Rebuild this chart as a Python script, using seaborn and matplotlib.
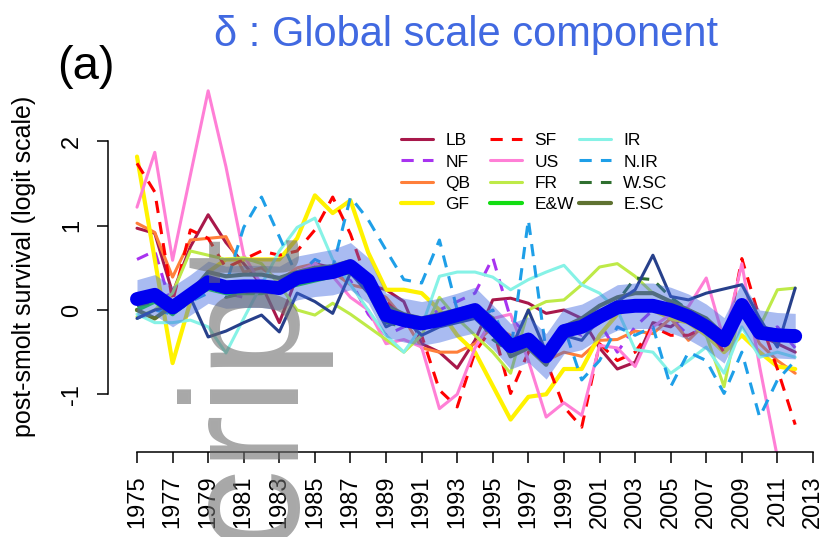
import numpy as np
import pandas as pd
import matplotlib
matplotlib.use("Agg")
import matplotlib.pyplot as plt
import seaborn as sns
from matplotlib.lines import Line2D

# ---- data ----
years = list(range(1975, 2013))

stocks = ["LB", "NF", "QB", "GF", "SF", "US", "FR", "E&W", "IR", "N.IR", "W.SC", "E.SC"]

lb = [0.97, 0.91, 0.2, 0.75, 1.13, 0.8, 0.55, 0.3, -0.15, 0.4, 0.55, 0.5, 0.45, 0.3, 0.24, 0.1, -0.4, -0.5, -0.69,
      -0.36, 0.12, 0.14, 0.08, -0.04, 0.0, -0.1, -0.45, -0.7, -0.62, -0.15, -0.2, -0.05, -0.3, -0.25, 0.05, -0.3, -0.4, -0.5]
nf = [0.6, 0.7, 0.0, 0.1, 0.3, 0.2, 0.15, 0.35, 0.25, 0.4, 0.5, 0.45, 0.35, -0.05, -0.3, -0.2, -0.1, 0.0, 0.1, 0.2,
      0.62, -0.1, -0.3, -0.5, -0.2, -0.3, -0.15, -0.5, -0.2, 0.0, -0.1, -0.3, -0.2, -0.4, 0.0, -0.3, -0.2, -0.45]
qb = [1.03, 0.92, 0.39, 0.83, 0.85, 0.87, 0.45, 0.5, 0.35, 0.5, 0.55, 0.45, 0.3, 0.25, 0.15, -0.1, -0.45, -0.5, -0.5,
      -0.4, -0.2, -0.3, -0.4, -0.6, -0.5, -0.55, -0.36, -0.35, -0.25, -0.28, -0.1, -0.36, -0.15, -0.5, 0.0, -0.4, -0.6, -0.75]
gf = [1.82, 0.6, -0.63, 0.1, 0.45, 0.6, 0.6, 0.6, 0.6, 0.85, 1.36, 1.15, 1.3, 0.68, 0.24, 0.24, 0.2, 0.0, -0.3, -0.5,
      -0.9, -1.3, -1.03, -1.0, -0.7, -0.7, -0.3, -0.05, 0.05, 0.0, -0.1, -0.15, -0.3, -0.5, -0.3, -0.5, -0.67, -0.7]
sf = [1.74, 1.4, 0.1, 0.95, 0.85, 0.5, 0.6, 0.7, 0.65, 0.7, 0.95, 1.34, 0.9, 0.3, 0.1, -0.1, -0.3, -0.95, -1.15, -0.5,
      -0.2, -0.99, -0.5, -0.6, -1.15, -1.39, -0.4, -0.6, -0.5, -0.2, -0.3, -0.3, -0.2, -0.5, 0.61, -0.1, -0.7, -1.36]
us = [1.22, 1.87, 0.59, 1.6, 2.6, 1.7, 0.65, 0.3, 0.25, 0.45, 0.55, 0.4, 0.15, 0.0, -0.4, -0.35, -0.44, -1.17, -1.0,
      -0.45, -0.1, -0.05, -0.6, -1.27, -1.1, -1.25, -0.42, -0.45, -0.67, -0.2, -0.05, 0.04, 0.38, -0.36, 0.55, -0.67, -1.75, -2.2]
fr = [-0.08, 0.0, 0.2, 0.7, 0.65, 0.6, 0.62, 0.55, 0.3, 0.0, -0.06, 0.08, -0.05, -0.2, -0.35, -0.5, -0.3, 0.15, -0.1,
      -0.3, -0.5, -0.75, 0.0, 0.1, 0.12, 0.3, 0.51, 0.55, 0.4, 0.2, 0.1, 0.0, -0.3, -0.91, 0.12, -0.2, 0.24, 0.26]
ew = [0.0, 0.1, -0.05, 0.15, 0.25, 0.2, 0.2, 0.2, 0.25, 0.3, 0.35, 0.4, 0.45, 0.3, -0.1, -0.15, -0.2, -0.15, -0.1,
      -0.05, -0.25, -0.45, -0.35, -0.5, -0.3, -0.25, -0.1, 0.0, 0.1, 0.05, -0.05, -0.1, -0.2, -0.35, 0.05, -0.25, -0.3, -0.3]
ir = [-0.05, -0.15, -0.15, -0.12, -0.2, -0.51, -0.1, 0.3, 0.7, 0.98, 1.09, 0.6, 0.3, 0.0, -0.3, -0.5, -0.2, 0.4, 0.45,
      0.45, 0.39, 0.24, 0.36, 0.45, 0.53, 0.3, 0.2, 0.0, -0.47, -0.5, -0.75, -0.6, -0.44, -0.75, -0.2, -0.56, -0.5, -0.56]
nir = [-0.1, 0.0, -0.05, 0.1, 0.2, 0.3, 0.98, 1.34, 0.87, 0.4, 0.6, 0.5, 1.34, 1.07, 0.71, 0.36, 0.32, 0.83, 0.0, -0.1,
       0.0, -0.5, 1.07, -0.5, -0.2, -0.83, -0.6, -0.2, -0.3, -0.2, -0.91, -0.5, -0.6, -0.99, -0.5, -1.27, -0.83, -0.6]
wsc = [0.05, 0.1, -0.05, 0.1, 0.3, 0.15, 0.2, 0.25, 0.3, 0.35, 0.4, 0.45, 0.5, 0.25, -0.15, -0.2, -0.1, -0.2, -0.1,
       -0.05, -0.35, -0.5, -0.4, -0.6, -0.3, -0.2, -0.05, 0.1, 0.38, 0.36, 0.15, 0.0, -0.1, -0.3, 0.1, -0.3, -0.35, -0.35]
esc = [0.0, -0.1, 0.05, 0.2, 0.45, 0.4, 0.42, 0.42, 0.38, 0.45, 0.5, 0.52, 0.58, 0.3, 0.05, -0.05, -0.1, -0.05, 0.0,
       0.05, -0.1, -0.55, -0.45, -0.65, -0.2, -0.1, 0.05, 0.15, 0.2, 0.2, 0.1, 0.0, -0.1, -0.3, 0.1, -0.2, -0.25, -0.25]
# extra navy series (not in legend)
navy = [-0.1, 0.0, 0.05, 0.15, -0.32, -0.25, -0.15, -0.06, -0.26, 0.2, 0.1, -0.04, 0.44, 0.2, -0.2, -0.1, -0.3, -0.2,
        -0.15, -0.1, -0.3, -0.47, 0.0, -0.5, -0.3, -0.36, -0.1, 0.1, 0.24, 0.65, 0.16, 0.12, 0.2, 0.25, 0.3, -0.1, -0.44, 0.26]

# global component (delta) and its credible band
delta = [0.13, 0.18, 0.03, 0.18, 0.33, 0.27, 0.28, 0.28, 0.26, 0.38, 0.42, 0.45, 0.52, 0.35, -0.06, -0.12, -0.16,
         -0.12, -0.06, 0.0, -0.2, -0.43, -0.35, -0.55, -0.25, -0.2, -0.08, 0.03, 0.05, 0.05, 0.0, -0.08, -0.2, -0.36,
         0.06, -0.27, -0.3, -0.31]
delta_hi = [0.36, 0.42, 0.28, 0.42, 0.58, 0.52, 0.53, 0.53, 0.52, 0.64, 0.68, 0.72, 0.8, 0.62, 0.2, 0.14, 0.1, 0.14,
            0.2, 0.27, 0.06, -0.16, -0.08, -0.28, 0.02, 0.07, 0.18, 0.3, 0.32, 0.32, 0.27, 0.19, 0.07, -0.09, 0.33,
            0.0, -0.03, -0.04]
delta_lo = [-0.1, -0.06, -0.2, -0.06, 0.08, 0.02, 0.03, 0.03, 0.0, 0.12, 0.16, 0.18, 0.24, 0.08, -0.32, -0.38, -0.42,
            -0.38, -0.32, -0.27, -0.46, -0.7, -0.62, -0.82, -0.52, -0.47, -0.34, -0.24, -0.22, -0.22, -0.27, -0.35,
            -0.47, -0.63, -0.21, -0.54, -0.57, -0.58]

series = [lb, nf, qb, gf, sf, us, fr, ew, ir, nir, wsc, esc]

colors = {"LB": "#A8184A", "NF": "#A833F0", "QB": "#FF7F3A", "GF": "#FFF200", "SF": "#FF0000",
          "US": "#FF7FD6", "FR": "#BEEA48", "E&W": "#12DD12", "IR": "#86F2E6", "N.IR": "#1E9FE8",
          "W.SC": "#2F6F2F", "E.SC": "#5F7231"}
dashed = ["NF", "SF", "N.IR", "W.SC"]
thick = ["GF", "E&W", "E.SC"]

# long table for seaborn
df = pd.DataFrame({
    "year": years * len(stocks),
    "value": [v for s in series for v in s],
    "stock": [st for st in stocks for _ in years],
})

# ---- figure ----
sns.set_style("white")
plt.rcParams["font.family"] = ["Liberation Sans", "DejaVu Sans"]
plt.rcParams["text.color"] = "black"

W, H = 825, 537
fig = plt.figure(figsize=(W / 100, H / 100), dpi=100)

# pixel layout
px_yr = (813 - 137) / 38.0
px_unit = 84.3
ax_l, ax_r, ax_b, ax_t = 108, 825, 452, 80
ax = fig.add_axes([ax_l / W, (H - ax_b) / H, (ax_r - ax_l) / W, (ax_b - ax_t) / H])
ax.set_facecolor("none")

dash_map = {s: ((4, 3) if s in dashed else "") for s in stocks}
size_map = {s: (3.0 if s in thick else 2.2) for s in stocks}

sns.lineplot(data=df, x="year", y="value", hue="stock", style="stock", size="stock",
             hue_order=stocks, style_order=stocks, size_order=stocks,
             palette=colors, dashes=dash_map, sizes=size_map, legend=False, ax=ax)
sns.lineplot(x=years, y=navy, color="#27408B", linewidth=2.2, ax=ax)

ax.fill_between(years, delta_lo, delta_hi, color="royalblue", alpha=0.45, linewidth=0, zorder=4)
sns.lineplot(x=years, y=delta, color="#0000F0", linewidth=10, ax=ax, zorder=5)

# axes limits so that 1975 -> px 137 and 0 -> px 310
ax.set_xlim(1975 - (137 - ax_l) / px_yr, 2013 + (ax_r - 813) / px_yr)
ax.set_ylim((310 - ax_b) / px_unit, (310 - ax_t) / px_unit)

# R-like axes
for side in ["top", "right"]:
    ax.spines[side].set_visible(False)
ax.spines["left"].set_bounds(-1, 2)
ax.spines["bottom"].set_bounds(1975, 2013)
for side in ["left", "bottom"]:
    ax.spines[side].set_linewidth(1.1)
    ax.spines[side].set_color("black")

xt = list(range(1975, 2014, 2))
ax.set_xticks(xt)
ax.set_xticklabels([str(y) for y in xt], rotation=90, fontsize=17)
ax.set_yticks([-1, 0, 1, 2])
ax.set_yticklabels(["-1", "0", "1", "2"], rotation=90, va="center", fontsize=17)
ax.tick_params(axis="x", bottom=True, length=8, width=1.1, pad=9, colors="black")
ax.tick_params(axis="y", left=True, length=8, width=1.1, pad=10, colors="black")
ax.set_xlabel("")
ax.set_ylabel("")

fig.text(24 / W, (H - 266) / H, "post-smolt survival (logit scale)", rotation=90,
         ha="center", va="center", fontsize=18)
fig.text(466 / W, (H - 46) / H, "δ : Global scale component", ha="center", va="baseline",
         fontsize=30, color="#4169E1")
fig.text(57 / W, (H - 67) / H, "(a)", ha="left", va="center", fontsize=34)

# legend in three columns, four rows each
for c, x0 in enumerate([401, 490, 579]):
    handles = []
    for s in stocks[c * 4:(c + 1) * 4]:
        handles.append(Line2D([], [], color=colors[s], lw=size_map[s],
                              linestyle=(0, (4, 3)) if s in dashed else "-", label=s))
    leg = fig.legend(handles=handles, loc="upper left", bbox_to_anchor=(x0 / W, (H - 133) / H),
                     frameon=False, fontsize=12.5, handlelength=1.85, handletextpad=0.7,
                     labelspacing=0.36, borderpad=0, borderaxespad=0)

# grey watermark text
fig.text(292 / W, (H - 545) / H, "cript", rotation=90, rotation_mode="anchor", ha="left",
         va="baseline", fontsize=120, color="#6E6E6E", alpha=0.6)

fig.savefig("out.png", dpi=100)
